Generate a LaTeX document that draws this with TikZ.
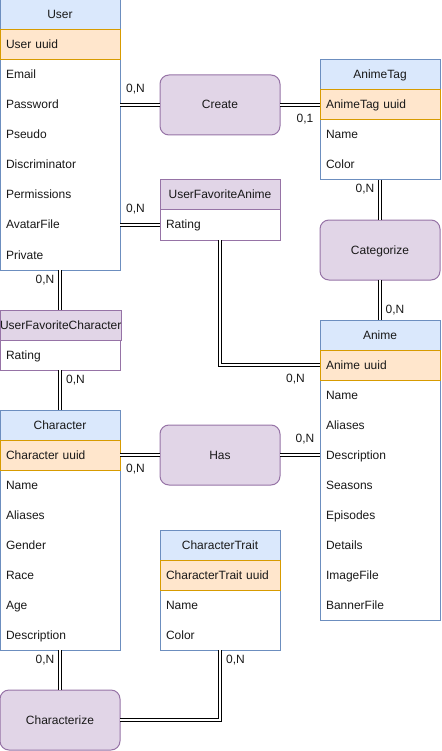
\documentclass[tikz,border=0pt]{standalone}
\usepackage{fontspec}
\setmainfont{Liberation Sans}
\definecolor{blueF}{HTML}{DAE8FC}
\definecolor{blueS}{HTML}{6C8EBF}
\definecolor{orangeF}{HTML}{FFE6CC}
\definecolor{orangeS}{HTML}{D79B00}
\definecolor{purpleF}{HTML}{E1D5E7}
\definecolor{purpleS}{HTML}{9673A6}
\begin{document}
\begin{tikzpicture}[x=1pt,y=-1pt,
  base/.style={rectangle, minimum width=120pt, inner sep=0pt, outer sep=0pt, anchor=north west, font=\fontsize{12}{14}\selectfont, text=black!90, text height=9.8pt, text depth=1.8pt},
  frame/.style={base, draw=blueS, fill=white, line width=1pt},
  pframe/.style={frame, draw=purpleS},
  hdr/.style={base, draw=blueS, fill=blueF, minimum height=30pt, line width=1pt, align=center},
  phdr/.style={hdr, draw=purpleS, fill=purpleF},
  keyrow/.style={base, draw=orangeS, fill=orangeF, minimum height=30pt, text width=108pt, inner xsep=6pt, align=left, line width=1pt},
  row/.style={base, minimum height=30pt, text width=108pt, inner xsep=6pt, align=left},
  rel/.style={base, rounded corners=9pt, draw=purpleS, fill=purpleF, minimum height=60pt, line width=1pt, align=center},
  link/.style={draw=black, double=white, double distance=2pt, line width=1pt},
  card/.style={font=\fontsize{12}{14}\selectfont, text=black!90, inner sep=0pt, text height=9.8pt, text depth=1.8pt}
]
\useasboundingbox (0,0) rectangle (441,751);

% ---------- User ----------
\node[frame, minimum height=270pt] (user) at (0,0) {};
\node[hdr] (userH) at (0,0) {User};
\node[keyrow] (userUuid) at (0,30) {User uuid};
\node[row] (userEmail) at (0,60) {Email};
\node[row] (userPassword) at (0,90) {Password};
\node[row] (userPseudo) at (0,120) {Pseudo};
\node[row] (userDiscr) at (0,150) {Discriminator};
\node[row] (userPerm) at (0,180) {Permissions};
\node[row] (userAvatar) at (0,210) {AvatarFile};
\node[row] (userPrivate) at (0,240) {Private};

% ---------- AnimeTag ----------
\node[frame, minimum height=120pt] (tag) at (320,60) {};
\node[hdr] (tagH) at (320,60) {AnimeTag};
\node[keyrow] (tagUuid) at (320,90) {AnimeTag uuid};
\node[row] (tagName) at (320,120) {Name};
\node[row] (tagColor) at (320,150) {Color};

% ---------- UserFavoriteAnime ----------
\node[pframe, minimum height=60pt] (ufa) at (160,180) {};
\node[phdr] (ufaH) at (160,180) {UserFavoriteAnime};
\node[row] (ufaRating) at (160,210) {Rating};

% ---------- UserFavoriteCharacter ----------
\node[pframe, minimum height=60pt] (ufc) at (0,310) {};
\node[phdr] (ufcH) at (0,310) {UserFavoriteCharacter};
\node[row] (ufcRating) at (0,340) {Rating};

% ---------- Anime ----------
\node[frame, minimum height=300pt] (anime) at (320,320) {};
\node[hdr] (animeH) at (320,320) {Anime};
\node[keyrow] (animeUuid) at (320,350) {Anime uuid};
\node[row] (animeName) at (320,380) {Name};
\node[row] (animeAliases) at (320,410) {Aliases};
\node[row] (animeDesc) at (320,440) {Description};
\node[row] (animeSeasons) at (320,470) {Seasons};
\node[row] (animeEpisodes) at (320,500) {Episodes};
\node[row] (animeDetails) at (320,530) {Details};
\node[row] (animeImage) at (320,560) {ImageFile};
\node[row] (animeBanner) at (320,590) {BannerFile};

% ---------- Character ----------
\node[frame, minimum height=240pt] (char) at (0,410) {};
\node[hdr] (charH) at (0,410) {Character};
\node[keyrow] (charUuid) at (0,440) {Character uuid};
\node[row] (charName) at (0,470) {Name};
\node[row] (charAliases) at (0,500) {Aliases};
\node[row] (charGender) at (0,530) {Gender};
\node[row] (charRace) at (0,560) {Race};
\node[row] (charAge) at (0,590) {Age};
\node[row] (charDesc) at (0,620) {Description};

% ---------- CharacterTrait ----------
\node[frame, minimum height=120pt] (trait) at (160,530) {};
\node[hdr] (traitH) at (160,530) {CharacterTrait};
\node[keyrow] (traitUuid) at (160,560) {CharacterTrait uuid};
\node[row] (traitName) at (160,590) {Name};
\node[row] (traitColor) at (160,620) {Color};

% ---------- Relations ----------
\node[rel] (create) at (160,75) {Create};
\node[rel] (categorize) at (320,220) {Categorize};
\node[rel] (has) at (160,425) {Has};
\node[rel] (characterize) at (0,690) {Characterize};

% ---------- Links ----------
\draw[link] (userPassword.east) -- (create.west);
\draw[link] (create.east) -- (tagUuid.west);
\draw[link] (userAvatar.east) -- (ufaRating.west);
\draw[link] (tag.south) -- (categorize.north);
\draw[link] (categorize.south) -- (anime.north);
\draw[link] (ufa.south) |- (animeUuid.west);
\draw[link] (user.south) -- (ufc.north);
\draw[link] (ufc.south) -- (char.north);
\draw[link] (charUuid.east) -- (has.west);
\draw[link] (has.east) -- (animeDesc.west);
\draw[link] (char.south) -- (characterize.north);
\draw[link] (trait.south) |- (characterize.east);

% ---------- Cardinalities ----------
\node[card] (c1) at (135.5,89) {0,N};
\node[card] (c2) at (305,119) {0,1};
\node[card] (c3) at (135.5,209) {0,N};
\node[card] (c4) at (365,189) {0,N};
\node[card] (c5) at (395,309) {0,N};
\node[card] (c6) at (295.5,378) {0,N};
\node[card] (c7) at (45,279) {0,N};
\node[card] (c8) at (75.5,379) {0,N};
\node[card] (c9) at (135.5,468) {0,N};
\node[card] (c10) at (305,438) {0,N};
\node[card] (c11) at (45,659) {0,N};
\node[card] (c12) at (235.5,659) {0,N};
\end{tikzpicture}
\end{document}
